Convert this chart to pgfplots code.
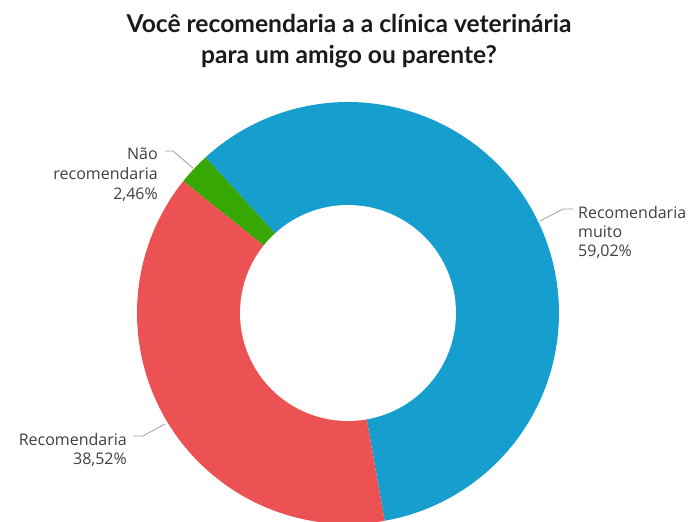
\documentclass[border=0pt]{standalone}
\usepackage{pgfplots}
\pgfplotsset{compat=1.18}
\usepackage{pgfplotstable}
\usepackage{fontspec}
\setmainfont{Lato}
\newfontfamily\labelfont{Open Sans}
\definecolor{cBlue}{HTML}{169ECE}
\definecolor{cRed}{HTML}{EC5254}
\definecolor{cGreen}{HTML}{36A703}
\definecolor{cLine}{HTML}{A0A0A0}
\definecolor{cText}{HTML}{404040}
\definecolor{cTitle}{HTML}{1A1A1A}
\pgfplotstableread{
label value
muito 59.02
rec 38.52
nao 2.46
}\shares
\pgfplotstablegetelem{0}{value}\of\shares \let\vA\pgfplotsretval
\pgfplotstablegetelem{1}{value}\of\shares \let\vB\pgfplotsretval
\pgfplotstablegetelem{2}{value}\of\shares \let\vC\pgfplotsretval
\pgfmathsetmacro{\aS}{-80}
\pgfmathsetmacro{\aA}{\aS+3.6*\vA}
\pgfmathsetmacro{\aC}{\aA+3.6*\vC}
\pgfmathsetmacro{\aB}{\aC+3.6*\vB}
\def\cx{348}\def\cy{313}\def\Ro{211}\def\Ri{108}
\begin{document}
\begin{tikzpicture}
\path[use as bounding box] (0,0) rectangle (694pt,522pt);
\clip (0,0) rectangle (694pt,522pt);
\begin{axis}[
  at={(0,0)}, anchor=south west,
  scale only axis, width=694pt, height=522pt,
  xmin=0, xmax=694, ymin=0, ymax=522, y dir=reverse,
  hide axis, clip=true,
]
\addplot[fill=cBlue, draw=none, domain=\aS:\aA, samples=120, variable=\t]
  ({\cx+\Ro*cos(\t)},{\cy-\Ro*sin(\t)}) -- (axis cs:\cx,\cy) -- cycle;
\addplot[fill=cGreen, draw=none, domain=\aA:\aC, samples=10, variable=\t]
  ({\cx+\Ro*cos(\t)},{\cy-\Ro*sin(\t)}) -- (axis cs:\cx,\cy) -- cycle;
\addplot[fill=cRed, draw=none, domain=\aC:\aB, samples=90, variable=\t]
  ({\cx+\Ro*cos(\t)},{\cy-\Ro*sin(\t)}) -- (axis cs:\cx,\cy) -- cycle;
\addplot[fill=white, draw=none, domain=0:360, samples=120, variable=\t]
  ({\cx+\Ri*cos(\t)},{\cy-\Ri*sin(\t)}) -- cycle;
% leader lines
\addplot[cLine, line width=0.8pt] coordinates {(540,221) (563,209) (573,209)};
\addplot[cLine, line width=0.8pt] coordinates {(165,151) (173,151) (193,168)};
\addplot[cLine, line width=0.8pt] coordinates {(133,436) (143,436) (165,424)};
% title
\node[anchor=base, font=\fontsize{24.6}{28}\selectfont\bfseries, text=cTitle] at (axis cs:349,32) {Você recomendaria a a clínica veterinária};
\node[anchor=base, font=\fontsize{24.6}{28}\selectfont\bfseries, text=cTitle] at (axis cs:349,63) {para um amigo ou parente?};
% labels
\begin{scope}[every node/.style={font=\labelfont\fontsize{16}{18}\selectfont, text=cText, inner sep=0pt}]
\node[anchor=base west] at (axis cs:578,218) {Recomendaria};
\node[anchor=base west] at (axis cs:578,237) {muito};
\node[anchor=base west] at (axis cs:578,256) {59,02\%};
\node[anchor=base east] at (axis cs:158,159) {Não};
\node[anchor=base east] at (axis cs:158,179) {recomendaria};
\node[anchor=base east] at (axis cs:158,199) {2,46\%};
\node[anchor=base east] at (axis cs:127,445) {Recomendaria};
\node[anchor=base east] at (axis cs:127,464) {38,52\%};
\end{scope}
\end{axis}
\end{tikzpicture}
\end{document}
